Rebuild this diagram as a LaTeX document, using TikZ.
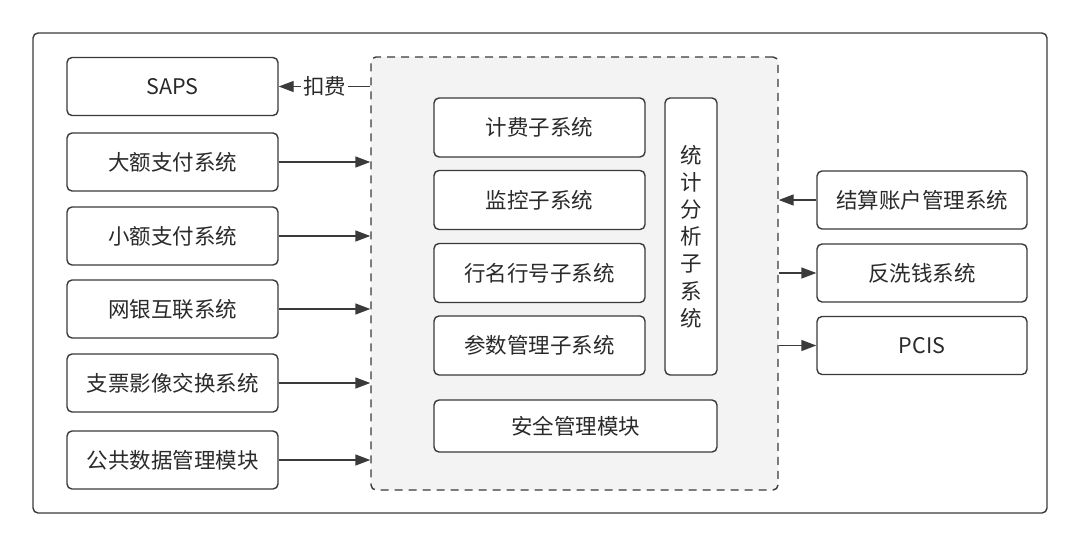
\documentclass[tikz,border=0pt]{standalone}
\usepackage{fontspec}
\setmainfont{Noto Sans CJK SC}
\usetikzlibrary{arrows.meta}
\definecolor{linegray}{HTML}{3A3A3A}
\definecolor{textgray}{HTML}{2A2A2A}
\definecolor{coregray}{HTML}{F3F3F3}

\begin{document}
\begin{tikzpicture}[x=1pt,y=-1pt,
		box/.style={draw=linegray,line width=1.4pt,rounded corners=5pt,fill=white,
			text=textgray,font=\fontsize{21.5}{27.2}\selectfont,inner sep=0pt},
		sysbox/.style={box,minimum width=211pt,minimum height=58pt},
		subbox/.style={box,minimum width=211pt,minimum height=59pt},
		arr/.style={draw=linegray,line width=1.4pt,-{Triangle[length=15pt,width=11pt]}}]
	\useasboundingbox (0,0) rectangle (1080,547);
	\draw[linegray,line width=1.4pt,rounded corners=5pt] (33,33) rectangle (1047,513);
	\node(core)[draw=linegray,line width=1.4pt,dash pattern=on 8pt off 6pt,rounded corners=5pt,
		fill=coregray,minimum width=407pt,minimum height=433pt,inner sep=0pt] at (574.5,273.5){};
		% left side
	\node(saps)[sysbox] at (172.5,86.5){SAPS};
	\node(dae)[sysbox] at (172.5,162){大额支付系统};
	\node(xiaoe)[sysbox] at (172.5,236){小额支付系统};
	\node(wangyin)[sysbox] at (172.5,309){网银互联系统};
	\node(zhipiao)[sysbox] at (172.5,383){支票影像交换系统};
	\node(gonggong)[sysbox] at (172.5,460){公共数据管理模块};
		% inside
	\node(jifei)[subbox] at (539.5,127.5){计费子系统};
	\node(jiankong)[subbox] at (539.5,200){监控子系统};
	\node(hangming)[subbox] at (539.5,273){行名行号子系统};
	\node(canshu)[subbox] at (539.5,345.5){参数管理子系统};
	\node(anquan)[box,minimum width=283pt,minimum height=52pt] at (575.5,426){安全管理模块};
	\node(tongji)[box,minimum width=52pt,minimum height=277pt,align=center] at (691,236.5)
		{统\\计\\分\\析\\子\\系\\统};
		% right side
	\node(jiesuan)[sysbox,minimum width=210pt] at (922,200){结算账户管理系统};
	\node(fanxiqian)[sysbox,minimum width=210pt] at (922,273){反洗钱系统};
	\node(pcis)[sysbox,minimum width=210pt] at (922,345.5){PCIS};
		% connectors
	\draw[arr] (saps -| core.west) -- node[fill=white,text=textgray,inner sep=2pt,
		font=\fontsize{21.5}{24}\selectfont]{扣费} (saps);
	\draw[arr] (dae) -- (dae -| core.west);
	\draw[arr] (xiaoe) -- (xiaoe -| core.west);
	\draw[arr] (wangyin) -- (wangyin -| core.west);
	\draw[arr] (zhipiao) -- (zhipiao -| core.west);
	\draw[arr] (gonggong) -- (gonggong -| core.west);
	\draw[arr] (jiesuan) -- (jiesuan -| core.east);
	\draw[arr] (fanxiqian -| core.east) -- (fanxiqian);
	\draw[arr] (pcis -| core.east) -- (pcis);
\end{tikzpicture}
\end{document}
